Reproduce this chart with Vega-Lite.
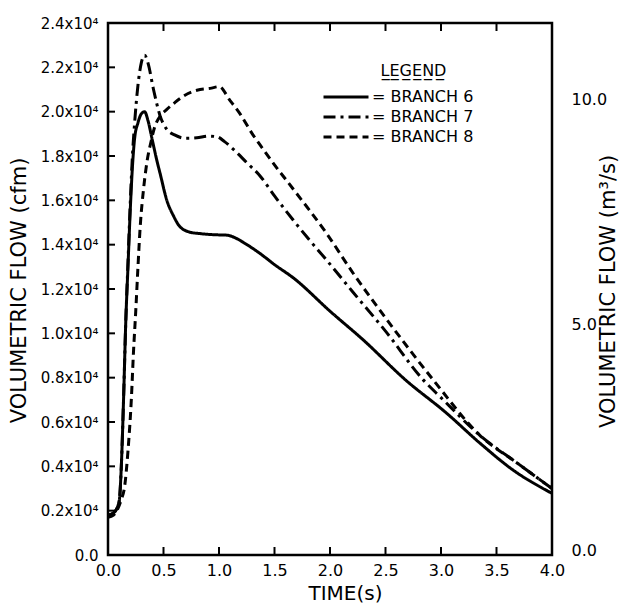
{
  "$schema": "https://vega.github.io/schema/vega-lite/v6.json",
  "width": 444,
  "height": 532,
  "autosize": "none",
  "padding": {"left": 108, "top": 23, "right": 69, "bottom": 53},
  "background": "white",
  "config": {
    "view": {"stroke": "black", "strokeWidth": 2.5},
    "font": "DejaVu Sans",
    "axis": {"domain": false, "grid": false, "ticks": false, "labelColor": "black", "titleColor": "black", "titleFontWeight": "normal", "labelFont": "DejaVu Sans", "titleFont": "DejaVu Sans", "labelFlush": false},
    "legend": {"labelFont": "DejaVu Sans", "titleFont": "DejaVu Sans"}
  },
  "datasets": {
    "xticks": [{"t": 0.5}, {"t": 1}, {"t": 1.5}, {"t": 2}, {"t": 2.5}, {"t": 3}, {"t": 3.5}],
    "yticks": [{"cfm": 2000}, {"cfm": 4000}, {"cfm": 6000}, {"cfm": 8000}, {"cfm": 10000}, {"cfm": 12000}, {"cfm": 14000}, {"cfm": 16000}, {"cfm": 18000}, {"cfm": 20000}, {"cfm": 22000}],
    "flow": [
      {"branch": "BRANCH 6", "t": 0, "cfm": 1800},
      {"branch": "BRANCH 6", "t": 0.05, "cfm": 1900},
      {"branch": "BRANCH 6", "t": 0.1, "cfm": 2400},
      {"branch": "BRANCH 6", "t": 0.12, "cfm": 4000},
      {"branch": "BRANCH 6", "t": 0.14, "cfm": 7000},
      {"branch": "BRANCH 6", "t": 0.16, "cfm": 10500},
      {"branch": "BRANCH 6", "t": 0.18, "cfm": 13000},
      {"branch": "BRANCH 6", "t": 0.2, "cfm": 15500},
      {"branch": "BRANCH 6", "t": 0.22, "cfm": 17500},
      {"branch": "BRANCH 6", "t": 0.24, "cfm": 18800},
      {"branch": "BRANCH 6", "t": 0.27, "cfm": 19500},
      {"branch": "BRANCH 6", "t": 0.3, "cfm": 19900},
      {"branch": "BRANCH 6", "t": 0.33, "cfm": 20000},
      {"branch": "BRANCH 6", "t": 0.36, "cfm": 19600},
      {"branch": "BRANCH 6", "t": 0.4, "cfm": 18700},
      {"branch": "BRANCH 6", "t": 0.44, "cfm": 17800},
      {"branch": "BRANCH 6", "t": 0.47, "cfm": 17200},
      {"branch": "BRANCH 6", "t": 0.53, "cfm": 16000},
      {"branch": "BRANCH 6", "t": 0.59, "cfm": 15300},
      {"branch": "BRANCH 6", "t": 0.65, "cfm": 14800},
      {"branch": "BRANCH 6", "t": 0.75, "cfm": 14550},
      {"branch": "BRANCH 6", "t": 0.83, "cfm": 14500},
      {"branch": "BRANCH 6", "t": 0.95, "cfm": 14450},
      {"branch": "BRANCH 6", "t": 1.07, "cfm": 14430},
      {"branch": "BRANCH 6", "t": 1.15, "cfm": 14300},
      {"branch": "BRANCH 6", "t": 1.22, "cfm": 14100},
      {"branch": "BRANCH 6", "t": 1.37, "cfm": 13600},
      {"branch": "BRANCH 6", "t": 1.5, "cfm": 13100},
      {"branch": "BRANCH 6", "t": 1.67, "cfm": 12500},
      {"branch": "BRANCH 6", "t": 2.0, "cfm": 11000},
      {"branch": "BRANCH 6", "t": 2.3, "cfm": 9700},
      {"branch": "BRANCH 6", "t": 2.68, "cfm": 7900},
      {"branch": "BRANCH 6", "t": 3.05, "cfm": 6400},
      {"branch": "BRANCH 6", "t": 3.35, "cfm": 5050},
      {"branch": "BRANCH 6", "t": 3.65, "cfm": 3830},
      {"branch": "BRANCH 6", "t": 4.0, "cfm": 2780},
      {"branch": "BRANCH 7", "t": 0, "cfm": 1800},
      {"branch": "BRANCH 7", "t": 0.05, "cfm": 1900},
      {"branch": "BRANCH 7", "t": 0.1, "cfm": 2400},
      {"branch": "BRANCH 7", "t": 0.12, "cfm": 4000},
      {"branch": "BRANCH 7", "t": 0.14, "cfm": 7000},
      {"branch": "BRANCH 7", "t": 0.16, "cfm": 10500},
      {"branch": "BRANCH 7", "t": 0.18, "cfm": 13200},
      {"branch": "BRANCH 7", "t": 0.2, "cfm": 15800},
      {"branch": "BRANCH 7", "t": 0.22, "cfm": 18000},
      {"branch": "BRANCH 7", "t": 0.24, "cfm": 19500},
      {"branch": "BRANCH 7", "t": 0.27, "cfm": 21200},
      {"branch": "BRANCH 7", "t": 0.3, "cfm": 22200},
      {"branch": "BRANCH 7", "t": 0.33, "cfm": 22550},
      {"branch": "BRANCH 7", "t": 0.36, "cfm": 22200},
      {"branch": "BRANCH 7", "t": 0.41, "cfm": 21000},
      {"branch": "BRANCH 7", "t": 0.47, "cfm": 19800},
      {"branch": "BRANCH 7", "t": 0.53, "cfm": 19200},
      {"branch": "BRANCH 7", "t": 0.6, "cfm": 18950},
      {"branch": "BRANCH 7", "t": 0.7, "cfm": 18800},
      {"branch": "BRANCH 7", "t": 0.8, "cfm": 18820},
      {"branch": "BRANCH 7", "t": 0.9, "cfm": 18900},
      {"branch": "BRANCH 7", "t": 0.98, "cfm": 18870},
      {"branch": "BRANCH 7", "t": 1.05, "cfm": 18650},
      {"branch": "BRANCH 7", "t": 1.13, "cfm": 18300},
      {"branch": "BRANCH 7", "t": 1.25, "cfm": 17700},
      {"branch": "BRANCH 7", "t": 1.37, "cfm": 17100},
      {"branch": "BRANCH 7", "t": 1.5, "cfm": 16200},
      {"branch": "BRANCH 7", "t": 1.67, "cfm": 15100},
      {"branch": "BRANCH 7", "t": 1.8, "cfm": 14300},
      {"branch": "BRANCH 7", "t": 1.97, "cfm": 13300},
      {"branch": "BRANCH 7", "t": 2.2, "cfm": 11900},
      {"branch": "BRANCH 7", "t": 2.5, "cfm": 10100},
      {"branch": "BRANCH 7", "t": 2.84, "cfm": 7900},
      {"branch": "BRANCH 7", "t": 3.0, "cfm": 7100},
      {"branch": "BRANCH 7", "t": 3.35, "cfm": 5400},
      {"branch": "BRANCH 7", "t": 3.7, "cfm": 4100},
      {"branch": "BRANCH 7", "t": 4.0, "cfm": 3000},
      {"branch": "BRANCH 8", "t": 0, "cfm": 1700},
      {"branch": "BRANCH 8", "t": 0.05, "cfm": 1800},
      {"branch": "BRANCH 8", "t": 0.09, "cfm": 2100},
      {"branch": "BRANCH 8", "t": 0.12, "cfm": 2500},
      {"branch": "BRANCH 8", "t": 0.15, "cfm": 3100},
      {"branch": "BRANCH 8", "t": 0.18, "cfm": 4700},
      {"branch": "BRANCH 8", "t": 0.21, "cfm": 7000},
      {"branch": "BRANCH 8", "t": 0.23, "cfm": 9200},
      {"branch": "BRANCH 8", "t": 0.25, "cfm": 11000},
      {"branch": "BRANCH 8", "t": 0.27, "cfm": 13000},
      {"branch": "BRANCH 8", "t": 0.29, "cfm": 14800},
      {"branch": "BRANCH 8", "t": 0.32, "cfm": 16500},
      {"branch": "BRANCH 8", "t": 0.35, "cfm": 17700},
      {"branch": "BRANCH 8", "t": 0.39, "cfm": 18700},
      {"branch": "BRANCH 8", "t": 0.42, "cfm": 19300},
      {"branch": "BRANCH 8", "t": 0.47, "cfm": 19800},
      {"branch": "BRANCH 8", "t": 0.53, "cfm": 20100},
      {"branch": "BRANCH 8", "t": 0.6, "cfm": 20400},
      {"branch": "BRANCH 8", "t": 0.68, "cfm": 20700},
      {"branch": "BRANCH 8", "t": 0.76, "cfm": 20900},
      {"branch": "BRANCH 8", "t": 0.83, "cfm": 21000},
      {"branch": "BRANCH 8", "t": 0.92, "cfm": 21050},
      {"branch": "BRANCH 8", "t": 1.0, "cfm": 21130},
      {"branch": "BRANCH 8", "t": 1.1, "cfm": 20500},
      {"branch": "BRANCH 8", "t": 1.19, "cfm": 19900},
      {"branch": "BRANCH 8", "t": 1.3, "cfm": 19000},
      {"branch": "BRANCH 8", "t": 1.37, "cfm": 18500},
      {"branch": "BRANCH 8", "t": 1.5, "cfm": 17600},
      {"branch": "BRANCH 8", "t": 1.67, "cfm": 16500},
      {"branch": "BRANCH 8", "t": 1.97, "cfm": 14500},
      {"branch": "BRANCH 8", "t": 2.21, "cfm": 12700},
      {"branch": "BRANCH 8", "t": 2.5, "cfm": 10700},
      {"branch": "BRANCH 8", "t": 2.93, "cfm": 7900},
      {"branch": "BRANCH 8", "t": 3.35, "cfm": 5400},
      {"branch": "BRANCH 8", "t": 3.7, "cfm": 4100},
      {"branch": "BRANCH 8", "t": 4.0, "cfm": 3000}
    ]
  },
  "layer": [
    {
      "layer": [
        {
          "data": {"name": "flow"},
          "mark": {"type": "line", "interpolate": "monotone", "strokeWidth": 3, "color": "black", "strokeJoin": "round"},
          "encoding": {
            "x": {
              "field": "t", "type": "quantitative",
              "scale": {"domain": [0, 4], "nice": false, "zero": false},
              "axis": {
                "orient": "bottom", "values": [0, 0.5, 1, 1.5, 2, 2.5, 3, 3.5, 4], "format": ".1f", "labelFlush": false,
                "labelPadding": 7, "labelFontSize": 16,
                "title": "TIME(s)", "titleFontSize": 20, "titleX": 237, "titleY": 38, "titleBaseline": "middle", "titleAlign": "center"
              }
            },
            "y": {
              "field": "cfm", "type": "quantitative",
              "scale": {"domain": [0, 24000], "nice": false},
              "axis": {
                "orient": "left", "values": [0, 2000, 4000, 6000, 8000, 10000, 12000, 14000, 16000, 18000, 20000, 22000, 24000],
                "labelExpr": "datum.value == 0 ? '0.0' : format(datum.value / 10000, '.1f') + 'x10⁴'",
                "labelPadding": 10, "labelFontSize": 15,
                "title": "VOLUMETRIC FLOW (cfm)", "titleFontSize": 21, "titleAngle": 270, "titleX": -89, "titleY": 267, "titleBaseline": "middle", "titleAlign": "center"
              }
            },
            "strokeDash": {
              "field": "branch", "type": "nominal",
              "scale": {"domain": ["BRANCH 6", "BRANCH 7", "BRANCH 8"], "range": [[1, 0], [12, 5, 3, 5], [8, 5]]},
              "legend": {
                "orient": "none", "legendX": 214, "legendY": 40, "padding": 0,
                "title": "\u2800\u2800\u2800\u2800\u2800L\u0332E\u0332G\u0332E\u0332N\u0332D\u0332", "titleFontSize": 16, "titleFontWeight": "normal", "titleAnchor": "start", "titlePadding": 8,
                "labelFontSize": 16, "labelExpr": "'= ' + datum.label", "labelOffset": 2, "clipHeight": 20,
                "symbolType": "stroke", "symbolSize": 2025, "symbolStrokeWidth": 3, "symbolStrokeColor": "black", "rowPadding": 0
              }
            }
          }
        },
        {
          "data": {"name": "xticks"},
          "mark": {"type": "tick", "orient": "vertical", "size": 8, "thickness": 2, "color": "black", "opacity": 1, "yOffset": -4},
          "encoding": {
            "x": {"field": "t", "type": "quantitative"},
            "y": {"datum": 0, "type": "quantitative"}
          }
        },
        {
          "data": {"name": "xticks"},
          "mark": {"type": "tick", "orient": "vertical", "size": 8, "thickness": 2, "color": "black", "opacity": 1, "yOffset": 4},
          "encoding": {
            "x": {"field": "t", "type": "quantitative"},
            "y": {"datum": 24000, "type": "quantitative"}
          }
        },
        {
          "data": {"name": "yticks"},
          "mark": {"type": "tick", "orient": "horizontal", "size": 7, "thickness": 2, "color": "black", "opacity": 1, "xOffset": 3.5},
          "encoding": {
            "x": {"datum": 0, "type": "quantitative"},
            "y": {"field": "cfm", "type": "quantitative"}
          }
        }
      ]
    },
    {
      "data": {"values": [{}]},
      "mark": {"type": "point", "opacity": 0},
      "encoding": {
        "y": {
          "datum": 0, "type": "quantitative",
          "scale": {"domain": [0, 11.8], "nice": false},
          "axis": {
            "orient": "right", "values": [0, 5, 10], "format": ".1f", "labelPadding": 19, "labelFontSize": 16, "labelOffset": -5,
            "title": "VOLUMETRIC FLOW (m³/s)", "titleFontSize": 21, "titleAngle": 270, "titleX": 56, "titleY": 268, "titleBaseline": "middle", "titleAlign": "center"
          }
        }
      }
    }
  ],
  "resolve": {"scale": {"y": "independent"}, "axis": {"y": "independent"}}
}
